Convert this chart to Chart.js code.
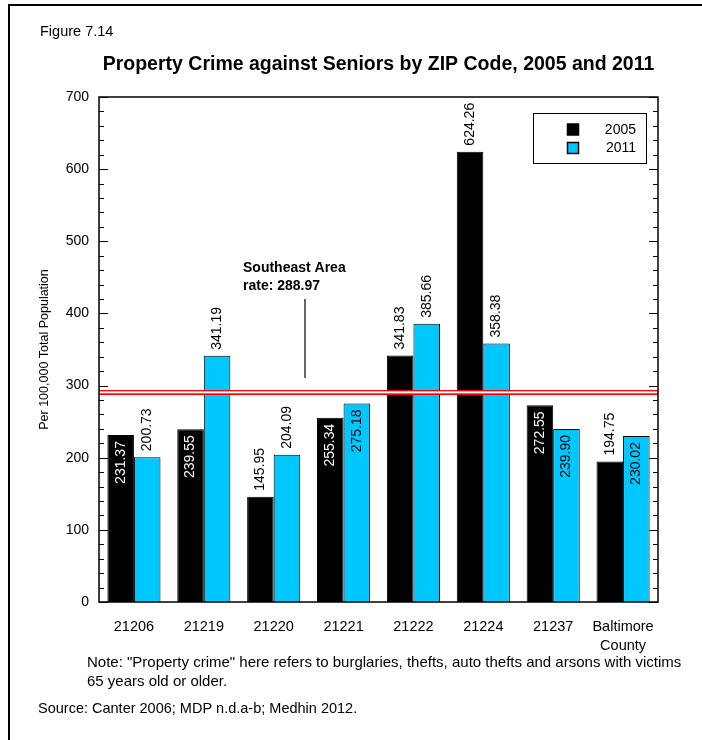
<!DOCTYPE html>
<html><head><meta charset="utf-8">
<style>html,body{margin:0;padding:0;background:#fff;}canvas{display:block;}</style>
<script src="https://cdn.jsdelivr.net/npm/chart.js@4.4.0/dist/chart.umd.min.js"></script>
</head><body>
<canvas id="c" width="702" height="740"></canvas>
<script>
const categories = ['21206','21219','21220','21221','21222','21224','21237',['Baltimore','County']];
const seriesLabels = ['2005','2011'];
const values2005 = [231.37,239.55,145.95,255.34,341.83,624.26,272.55,194.75];
const values2011 = [200.73,341.19,204.09,275.18,385.66,358.38,239.90,230.02];
const labelInside2005 = [true,true,false,true,false,false,true,false];
const labelInside2011 = [false,false,false,true,false,false,true,true];
const yTickValues = [0,100,200,300,400,500,600,700];
const southeastRate = 288.97;
const southeastText = ['Southeast Area','rate: 288.97'];
const figureLabel = 'Figure 7.14';
const titleText = 'Property Crime against Seniors by ZIP Code, 2005 and 2011';
const yAxisTitle = 'Per 100,000 Total Population';
const noteLines = ['Note: "Property crime" here refers to burglaries, thefts, auto thefts and arsons with victims','65 years old or older.'];
const sourceText = 'Source: Canter 2006; MDP n.d.a-b; Medhin 2012.';

const FONT = '"Liberation Sans", Arial, sans-serif';
const CYAN = '#00C8FF';

const deco = {
  id: 'deco',
  beforeDraw(chart) {
    const ctx = chart.ctx;
    ctx.save();
    ctx.fillStyle = '#fff';
    ctx.fillRect(0, 0, chart.width, chart.height);
    ctx.restore();
  },
  afterDatasetsDraw(chart) {
    const ctx = chart.ctx;
    const ca = chart.chartArea;
    const ys = chart.scales.y;
    ctx.save();
    // bar value labels
    ctx.font = '14px ' + FONT;
    chart.data.datasets.forEach((ds, di) => {
      const meta = chart.getDatasetMeta(di);
      const inside = di === 0 ? labelInside2005 : labelInside2011;
      meta.data.forEach((el, i) => {
        const txt = ds.data[i].toFixed(2);
        ctx.save();
        ctx.textBaseline = 'middle';
        if (inside[i]) {
          ctx.translate(el.x, el.y + 6);
          ctx.rotate(-Math.PI / 2);
          ctx.textAlign = 'right';
          ctx.fillStyle = di === 0 ? '#fff' : '#000';
        } else {
          ctx.translate(el.x, el.y - 6);
          ctx.rotate(-Math.PI / 2);
          ctx.textAlign = 'left';
          ctx.fillStyle = '#000';
        }
        ctx.fillText(txt, 0, 0);
        ctx.restore();
      });
    });
    // southeast rate double red line
    const ry = ys.getPixelForValue(southeastRate);
    ctx.fillStyle = '#FF0000';
    ctx.fillRect(ca.left, ry - 3.5, ca.right - ca.left, 5);
    ctx.fillStyle = '#fff';
    ctx.fillRect(ca.left, ry - 2.2, ca.right - ca.left, 2);
    // annotation
    ctx.strokeStyle = '#000';
    ctx.lineWidth = 1.2;
    ctx.beginPath();
    ctx.moveTo(305, 299);
    ctx.lineTo(305, 378);
    ctx.stroke();
    ctx.fillStyle = '#000';
    ctx.font = 'bold 14px ' + FONT;
    ctx.textAlign = 'left';
    ctx.textBaseline = 'middle';
    ctx.fillText(southeastText[0], 243, 268);
    ctx.fillText(southeastText[1], 243, 286);
    ctx.restore();
  },
  afterDraw(chart) {
    const ctx = chart.ctx;
    const ca = chart.chartArea;
    const ys = chart.scales.y;
    ctx.save();
    // minor/major ticks inward on both sides
    ctx.strokeStyle = '#000';
    ctx.lineWidth = 1;
    for (let v = 0; v <= 700; v += 20) {
      const y = Math.round(ys.getPixelForValue(v)) + 0.5;
      const len = (v % 100 === 0) ? 9 : 5;
      ctx.beginPath();
      ctx.moveTo(ca.left, y); ctx.lineTo(ca.left + len, y);
      ctx.moveTo(ca.right, y); ctx.lineTo(ca.right - len, y);
      ctx.stroke();
    }
    // frame
    ctx.lineWidth = 1.5;
    ctx.strokeRect(ca.left, ca.top, ca.right - ca.left, ca.bottom - ca.top);
    // outer figure border
    ctx.lineWidth = 2;
    ctx.beginPath();
    ctx.moveTo(9, 745); ctx.lineTo(9, 5); ctx.lineTo(710, 5);
    ctx.stroke();
    // legend
    const lx = 533, ly = 113, lw = 113, lh = 50;
    ctx.fillStyle = '#fff';
    ctx.fillRect(lx, ly, lw, lh);
    ctx.lineWidth = 1;
    ctx.strokeRect(lx + 0.5, ly + 0.5, lw, lh);
    ctx.font = '14px ' + FONT;
    ctx.textAlign = 'right';
    ctx.textBaseline = 'middle';
    chart.data.datasets.forEach((ds, di) => {
      const cy = 129.5 + di * 18.5;
      ctx.fillStyle = ds.backgroundColor;
      ctx.fillRect(567.5, cy - 5.5, 11, 11);
      ctx.strokeStyle = '#000';
      ctx.lineWidth = 1.5;
      ctx.strokeRect(567.5, cy - 5.5, 11, 11);
      ctx.fillStyle = '#000';
      ctx.fillText(ds.label, 636, cy + 0.5);
    });
    // texts
    ctx.textAlign = 'left';
    ctx.font = '14.5px ' + FONT;
    ctx.fillText(figureLabel, 40, 32);
    ctx.textAlign = 'center';
    ctx.font = 'bold 19.5px ' + FONT;
    ctx.fillText(titleText, (ca.left + ca.right) / 2, 65);
    // y axis title
    ctx.save();
    ctx.font = '12.5px ' + FONT;
    ctx.translate(45, (ca.top + ca.bottom) / 2);
    ctx.rotate(-Math.PI / 2);
    ctx.fillText(yAxisTitle, 0, 0);
    ctx.restore();
    ctx.textAlign = 'left';
    ctx.font = '15px ' + FONT;
    ctx.fillText(noteLines[0], 87, 663);
    ctx.fillText(noteLines[1], 87, 682);
    ctx.font = '14.5px ' + FONT;
    ctx.fillText(sourceText, 38, 709);
    ctx.restore();
  }
};

new Chart(document.getElementById('c'), {
  type: 'bar',
  data: {
    labels: categories,
    datasets: [
      { label: seriesLabels[0], data: values2005, backgroundColor: '#000000', borderColor: '#000', borderWidth: 1 },
      { label: seriesLabels[1], data: values2011, backgroundColor: CYAN, borderColor: '#000', borderWidth: 1 }
    ]
  },
  options: {
    responsive: false,
    animation: false,
    devicePixelRatio: 1,
    layout: { padding: { top: 97, right: 44, left: 0, bottom: 0 } },
    plugins: { legend: { display: false }, tooltip: { enabled: false }, title: { display: false } },
    datasets: { bar: { categoryPercentage: 0.76, barPercentage: 1.0 } },
    scales: {
      x: {
        grid: { display: false, drawTicks: false },
        border: { display: false },
        ticks: { color: '#000', font: { family: FONT, size: 14.5, lineHeight: 1.3 }, padding: 16, maxRotation: 0, autoSkip: false },
        afterFit(scale) { scale.height = 740 - 602; }
      },
      y: {
        min: 0, max: 700,
        grid: { display: false, drawTicks: false },
        border: { display: false },
        afterBuildTicks(scale) { scale.ticks = yTickValues.map(v => ({ value: v })); },
        ticks: { color: '#000', font: { family: FONT, size: 14 }, padding: 10 },
        afterFit(scale) { scale.width = 99; }
      }
    }
  },
  plugins: [deco]
});
</script>
</body></html>
